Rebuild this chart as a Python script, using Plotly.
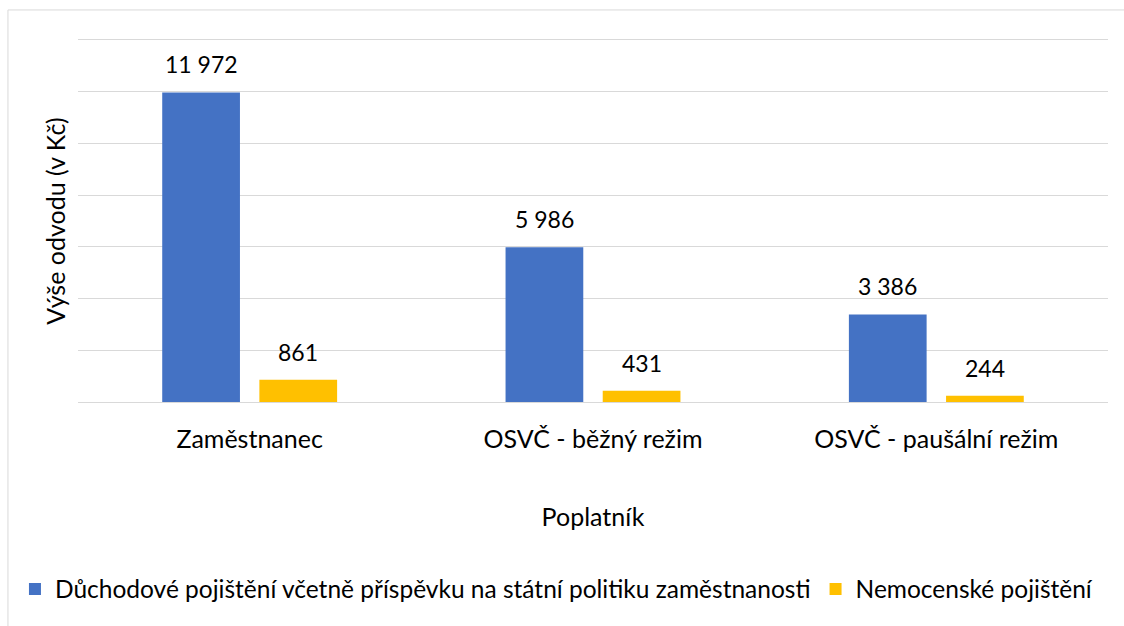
import plotly.graph_objects as go

# ---------------------------- Data ---------------------------------
categories = ["Zaměstnanec", "OSVČ - běžný režim", "OSVČ - paušální režim"]
duchodove = [11972, 5986, 3386]
nemocenske = [861, 431, 244]
series_names = ["Důchodové pojištění včetně příspěvku na státní politiku zaměstnanosti",
                "Nemocenské pojištění"]
colors = ["#4472C4", "#FFC000"]


def fmt(v):
    # czech thousands separator (space)
    return f"{v:,}".replace(",", " ")


FONT = "Lato"
BARGAP = 0.434
GRID = "#D9D9D9"

fig = go.Figure()
for name, vals, col in zip(series_names, [duchodove, nemocenske], colors):
    fig.add_bar(
        x=categories, y=vals, name=name,
        marker=dict(color=col, line=dict(width=0)),
    )

# data labels above bars (Excel leaves a bigger gap than plotly's outside text)
half = (1 - BARGAP) / 4
for k, vals in enumerate([duchodove, nemocenske]):
    off = -half if k == 0 else half
    for i, v in enumerate(vals):
        fig.add_annotation(x=i + off, y=v, text=fmt(v), showarrow=False,
                           yanchor="bottom", yshift=12,
                           font=dict(size=23, color="#000000"))

# light border around the chart area
fig.add_shape(type="rect", xref="paper", yref="paper",
              x0=-0.068, x1=1.03, y0=-0.75, y1=1.083,
              line=dict(color=GRID, width=1), layer="below")

fig.update_layout(
    width=1124, height=626,
    margin=dict(l=78, r=16, t=40, b=224, autoexpand=False),
    paper_bgcolor="white", plot_bgcolor="white",
    font=dict(family=FONT, size=24, color="#000000"),
    barmode="group", bargap=BARGAP, bargroupgap=0.2,
    showlegend=True,
    legend=dict(orientation="h", x=-0.0612, xanchor="left",
                y=-0.5166, yanchor="middle",
                font=dict(size=24.5), traceorder="normal"),
)
fig.update_xaxes(title=dict(text="Poplatník", standoff=56, font=dict(size=25)),
                 showline=True, mirror=True, linecolor=GRID, linewidth=1,
                 ticks="", showgrid=False, tickfont=dict(size=25),
                 ticklabelstandoff=15, automargin=False)
fig.update_yaxes(title=dict(text="Výše odvodu (v Kč)", standoff=4, font=dict(size=25)),
                 range=[0, 14000], dtick=2000, showticklabels=False,
                 gridcolor=GRID, zeroline=True, zerolinecolor=GRID,
                 zerolinewidth=1, showline=False, automargin=False)

fig.write_html("out.html", config={"displayModeBar": False},
               post_script="document.body.style.margin='0';")
